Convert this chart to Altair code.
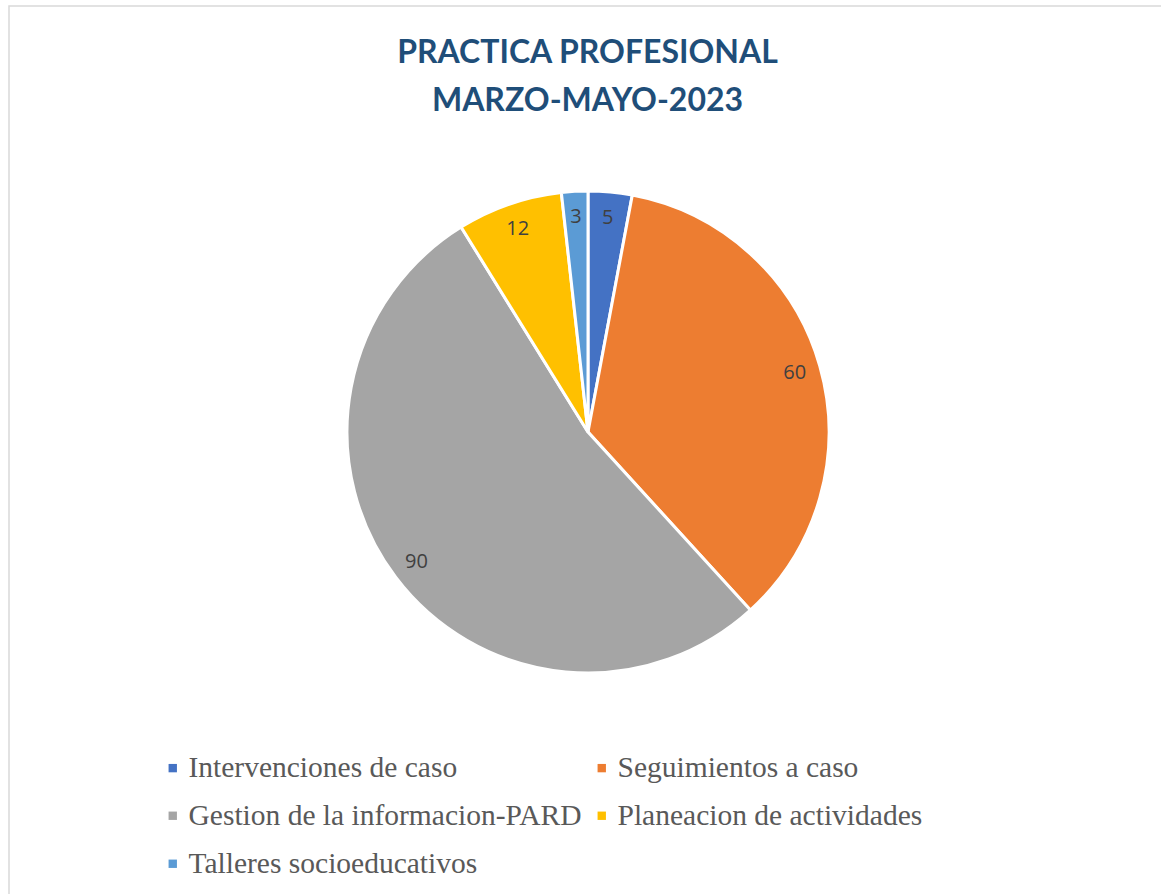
import altair as alt
import pandas as pd

categories = ["Intervenciones de caso", "Seguimientos a caso", "Gestion de la informacion-PARD",
              "Planeacion de actividades", "Talleres socioeducativos"]
values = [5, 60, 90, 12, 3]
colors = ["#4472C4", "#ED7D31", "#A5A5A5", "#FFC000", "#5B9BD5"]
title_lines = ["PRACTICA PROFESIONAL", "MARZO-MAYO-2023"]

df = pd.DataFrame({"category": categories, "value": values, "order": list(range(len(values)))})

base = alt.Chart(df).encode(
    theta=alt.Theta("value:Q", stack=True),
    order=alt.Order("order:Q"),
    x=alt.value(588),
    y=alt.value(432),
)

arcs = base.mark_arc(outerRadius=241, stroke="white", strokeWidth=3).encode(
    color=alt.Color(
        "category:N",
        sort=categories,
        scale=alt.Scale(domain=categories, range=colors),
        legend=alt.Legend(
            title=None, orient="none", legendX=158, legendY=753, columns=2,
            direction="horizontal",
            symbolType="square", symbolSize=70, symbolStrokeWidth=0,
            labelFont="Liberation Serif", labelFontSize=29.5, labelColor="#595959",
            labelLimit=600, labelOffset=1, rowPadding=17, columnPadding=5,
            symbolOffset=0,
        ),
    )
)

labels = base.mark_text(radius=215, font="Open Sans", fontSize=20, color="#404040").encode(
    text="value:Q"
)

border = alt.Chart(pd.DataFrame({"a": [0]})).mark_rect(
    fill=None, stroke="#D9D9D9", strokeWidth=1.5
).encode(x=alt.value(9), x2=alt.value(1300), y=alt.value(6), y2=alt.value(1100))

chart = alt.layer(border, arcs, labels).properties(
    width=1161, height=894,
    padding=0,
    autosize=alt.AutoSizeParams(type="none"),
    title=alt.TitleParams(
        text=title_lines, font="Lato", fontSize=32, fontWeight="bold", color="#1F4E79",
        anchor="middle", offset=-118, dx=7, lineHeight=48,
    ),
).configure_view(stroke=None)

chart.save("out.html", embed_options={"renderer": "svg", "actions": False})
